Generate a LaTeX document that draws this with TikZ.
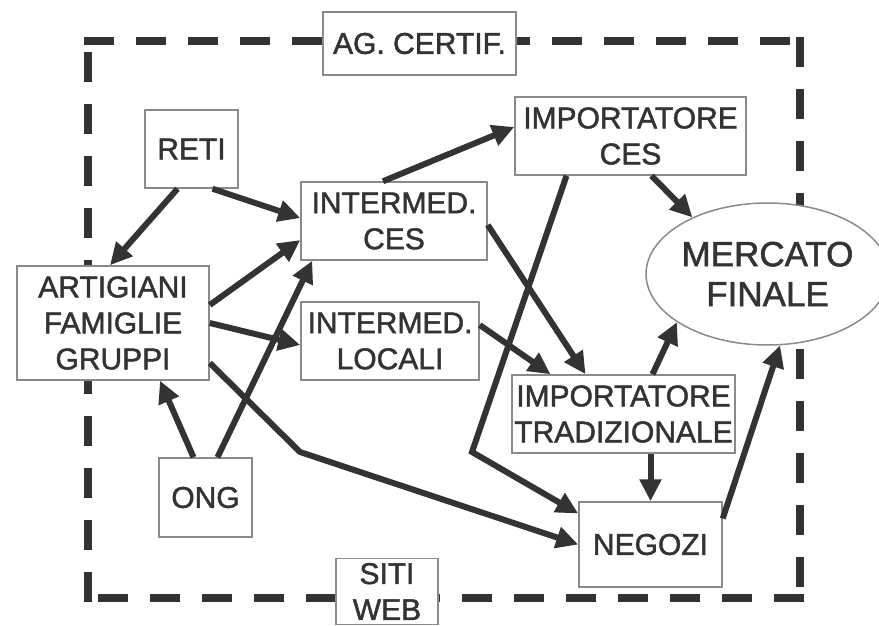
\documentclass[tikz,border=0pt]{standalone}
\usepackage{fontspec}
\setmainfont{Liberation Sans}
\newfontfamily\chartfont[FakeBold=1.5]{Liberation Sans}
\usetikzlibrary{shapes,arrows.meta,positioning}
\definecolor{inkgray}{HTML}{333333}
\definecolor{boxgray}{HTML}{8A8A8A}
\tikzstyle{actor}=[rectangle,draw=boxgray,line width=1.5pt,fill=white,align=center,inner sep=0pt,minimum height=78pt,font=\chartfont\fontsize{30}{36}\selectfont,text=inkgray]
\tikzstyle{market}=[ellipse,draw=boxgray,line width=1.5pt,fill=white,align=center,inner sep=0pt,font=\chartfont\fontsize{35}{40}\selectfont,text=inkgray]
\tikzstyle{flow}=[-{Triangle[length=22pt,width=21pt]},line width=6pt,draw=inkgray]
\tikzstyle{fencedash}=[line width=8pt,draw=inkgray,line cap=rect,dash pattern=on 22pt off 30pt]

\begin{document}
\begin{tikzpicture}[x=1pt,y=-1pt]
\clip (0,0) rectangle (879,626);
% dashed boundary
\coordinate (tl) at (88,41);
\coordinate (tr) at (800,41);
\coordinate (bl) at (88,598);
\coordinate (br) at (800,598);
\draw[fencedash] (tl) -- (tr);
\draw[fencedash] (tr) -- (br);
\draw[fencedash] (br) -- (bl);
\draw[fencedash] (bl) -- (tl);
% actors
\node[actor,minimum width=193pt,minimum height=63pt] (agc) at (419.5,43.5) {AG. CERTIF.};
\node[actor,minimum width=93pt] (reti) at (191.5,149) {RETI};
\node[actor,minimum width=186pt] (ices) at (394,221) {INTERMED.\\CES};
\node[actor,minimum width=231pt] (imces) at (630.5,136) {IMPORTATORE\\CES};
\node[market,minimum width=221pt,minimum height=142pt] (merc) at (767.5,274) {MERCATO\\FINALE};
\node[actor,minimum width=192pt,minimum height=114pt] (art) at (113,323) {ARTIGIANI\\FAMIGLIE\\GRUPPI};
\node[actor,minimum width=178pt] (iloc) at (390,341) {INTERMED.\\LOCALI};
\node[actor,minimum width=223pt] (imtr) at (623.5,414) {IMPORTATORE\\TRADIZIONALE};
\node[actor,minimum width=143pt,minimum height=85pt] (neg) at (650.5,544.5) {NEGOZI};
\node[actor,minimum width=93pt,minimum height=79pt] (ong) at (205.5,497.5) {ONG};
\node[actor,minimum width=102pt,minimum height=66pt] (siti) at (387,591.5) {SITI\\WEB};
% bends
\coordinate (bendA) at (300,452);
\coordinate (bendB) at (472,452);
% flows
\draw[flow] ([xshift=-14pt]reti.south) -- ([xshift=-3pt]art.north);
\draw[flow] ([xshift=21pt]reti.south) -- ([yshift=3pt]ices.west);
\draw[flow] ([yshift=18pt]art.east) -- ([yshift=-19pt]ices.west);
\draw[flow] (art.east) -- ([yshift=-4pt]iloc.west);
\draw[flow] ([yshift=-40pt]art.east) -- (bendA) -- (neg.west);
\draw[flow] ([xshift=-12pt]ong.north) -- ([xshift=47pt]art.south);
\draw[flow] ([xshift=12pt]ong.north) -- ([xshift=12pt]ices.south west);
\draw[flow] ([xshift=-11pt]ices.north) -- ([yshift=9pt]imces.west);
\draw[flow] ([yshift=-4pt]ices.east) -- ([xshift=-38pt]imtr.north);
\draw[flow] ([yshift=16pt]iloc.east) -- ([xshift=-73pt]imtr.north);
\draw[flow] ([xshift=-64pt]imces.south) -- (bendB) -- ([yshift=31pt]neg.west);
\draw[flow] ([xshift=21pt]imces.south) -- (merc.143);
\draw[flow] ([xshift=29pt]imtr.north) -- (merc.208);
\draw[flow] (neg.north |- imtr.south) -- (neg.north);
\draw[flow] ([yshift=26pt]neg.east) -- (merc.280);
\end{tikzpicture}
\end{document}
